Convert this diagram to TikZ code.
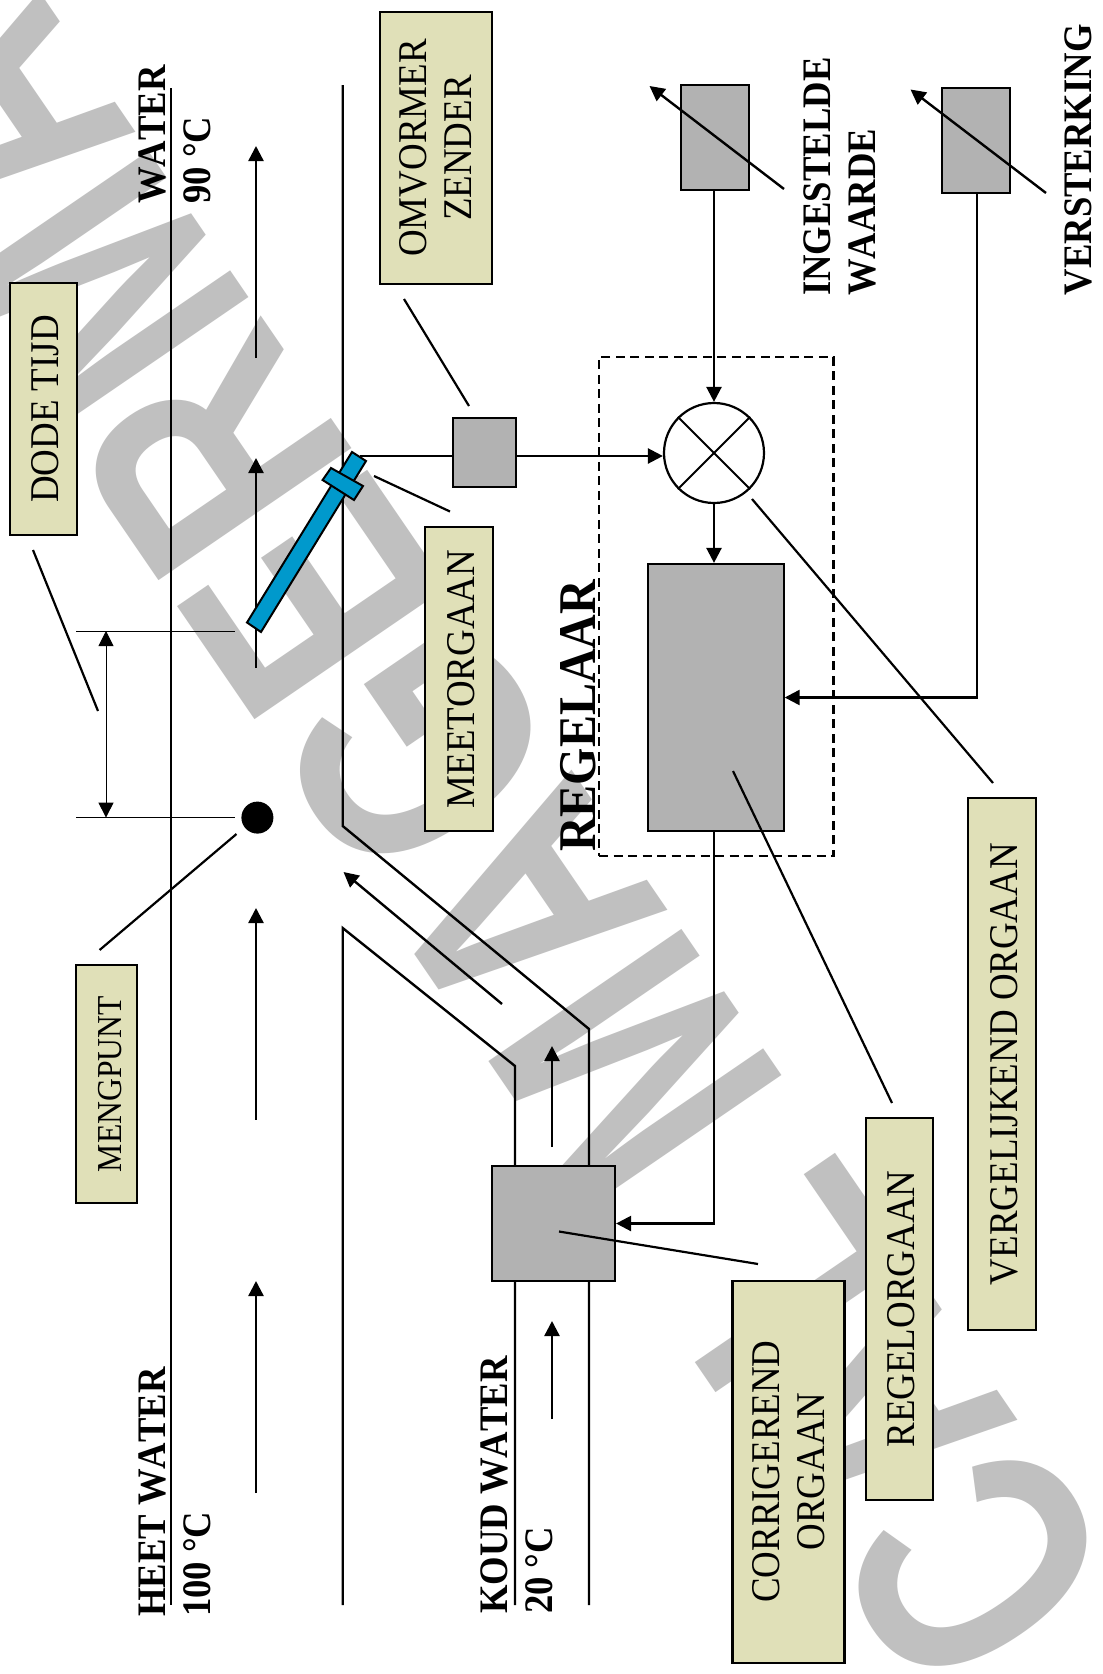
\documentclass[tikz,border=0pt]{standalone}
\usepackage{fontspec}
\setmainfont[FakeStretch=0.905,Kerning=Off]{Liberation Serif}
\newfontfamily\markfont[FakeStretch=0.745]{Liberation Sans}
\usetikzlibrary{arrows.meta}
\definecolor{tagfill}{RGB}{224,224,184}
\definecolor{unitfill}{RGB}{178,178,178}
\definecolor{markgray}{RGB}{192,192,192}
\definecolor{probeblue}{RGB}{0,153,204}
\tikzstyle{tag} = [rectangle, draw, line width=2.2pt, fill=tagfill, rotate=90, align=center, inner sep=0pt, font=\fontsize{40.8}{45}\selectfont, execute at begin node={\rule{0pt}{31pt}}]
\tikzstyle{unit} = [rectangle, draw, line width=2.2pt, fill=unitfill, inner sep=0pt]
\tikzstyle{heading} = [rotate=90, anchor=west, align=left, inner sep=0pt, font=\fontsize{40.5}{45}\selectfont\bfseries]
\tikzstyle{pipe} = [line width=2.4pt, line join=miter]
\tikzstyle{leader} = [line width=2.2pt]
\tikzstyle{flow} = [line width=2.4pt, -{Triangle[length=15pt,width=15pt]}]
\tikzstyle{thin} = [line width=1pt]
\begin{document}
\begin{tikzpicture}[x=1pt, y=-1pt]
\clip(0,0) rectangle (1103,1674);
\fill[white](0,0) rectangle (1103,1674);
\node(mark)[rotate=124.4, text=markgray, inner sep=0pt, font=\fontsize{340}{340}\selectfont\markfont\bfseries] at (432,772) {CAL MAGERMAN};
% pipes
\coordinate(hotA) at (171,88);
\coordinate(hotB) at (171,1605);
\coordinate(midA) at (342.7,85);
\coordinate(midB) at (342.7,826);
\coordinate(midC) at (589,1029);
\coordinate(midD) at (589,1605);
\coordinate(lowA) at (342.7,1605);
\coordinate(lowB) at (342.7,928);
\coordinate(lowC) at (515,1066);
\coordinate(lowD) at (515,1605);
\draw[pipe](hotA)--(hotB);
\draw[pipe](midA)--(midB)--(midC)--(midD);
\draw[pipe](lowA)--(lowB)--(lowC)--(lowD);
% flow arrows
\coordinate(h1a) at (256,358);
\coordinate(h1b) at (256,146);
\coordinate(h2a) at (256,668);
\coordinate(h2b) at (256,458);
\coordinate(h3a) at (256,1119.5);
\coordinate(h3b) at (256,908);
\coordinate(h4a) at (256,1493);
\coordinate(h4b) at (256,1281);
\coordinate(c1a) at (552,1147);
\coordinate(c1b) at (552,1046);
\coordinate(c2a) at (552,1419);
\coordinate(c2b) at (552,1321);
\coordinate(c3a) at (502,1004);
\coordinate(c3b) at (343.5,872);
\draw[flow](h1a)--(h1b);
\draw[flow](h2a)--(h2b);
\draw[flow](h3a)--(h3b);
\draw[flow](h4a)--(h4b);
\draw[flow](c1a)--(c1b);
\draw[flow](c2a)--(c2b);
\draw[flow](c3a)--(c3b);
% grey units
\node(setp)[unit, minimum width=68pt, minimum height=105pt] at (715,137.5) {};
\node(gain)[unit, minimum width=68pt, minimum height=105pt] at (976,140.5) {};
\node(trans)[unit, minimum width=63pt, minimum height=69pt] at (484.5,452.5) {};
\node(ctrl)[unit, minimum width=135.6pt, minimum height=267pt] at (715.8,697.5) {};
\node(valve)[unit, minimum width=123pt, minimum height=115pt] at (553.5,1223.5) {};
\node(mixer)[circle, draw, line width=2.2pt, fill=white, minimum size=100pt, inner sep=0pt] at (714,453) {};
\draw[line width=1.8pt](mixer.45)--(mixer.225);
\draw[line width=1.8pt](mixer.135)--(mixer.315);
\node(dot)[circle, fill=black, minimum size=32pt, inner sep=0pt] at (257.4,817.6) {};
% probe
\draw[line width=2pt, fill=probeblue](247,622.5)--(261,632)--(366,461)--(352,452)--cycle;
\draw[line width=2pt, fill=probeblue](322.6,480)--(331,468)--(363,486)--(354,500)--cycle;
% signals
\coordinate(tap) at (360,456);
\draw[pipe](tap)--(tap -| trans.west);
\draw[flow](tap -| trans.east)--(tap -| mixer.west);
\draw[flow](mixer.north |- setp.south)--(mixer.north);
\draw[flow](mixer.south)--(mixer.south |- ctrl.north);
\coordinate(gainout) at (977,193);
\draw[flow](gainout)|-(ctrl.east);
\draw[flow](mixer.south |- ctrl.south)|-(valve.east);
% adjust arrows
\coordinate(s1) at (784,189);
\coordinate(s2) at (649.5,86);
\coordinate(g1) at (1046,193);
\coordinate(g2) at (910.5,89.5);
\draw[flow](s1)--(s2);
\draw[flow](g1)--(g2);
% dead time
\coordinate(d1a) at (76,631);
\coordinate(d1b) at (235,631);
\coordinate(d2a) at (76,817.6);
\coordinate(d2b) at (235,817.6);
\coordinate(d3a) at (106,631);
\coordinate(d3b) at (106,817.6);
\draw[thin](d1a)--(d1b);
\draw[thin](d2a)--(d2b);
\draw[line width=1pt, {Triangle[length=15pt,width=15pt]}-{Triangle[length=15pt,width=15pt]}](d3a)--(d3b);
% regelaar frame
\node(frame)[draw, dashed, dash pattern=on 9pt off 5.5pt, line width=2.4pt, minimum width=234.6pt, minimum height=499pt, inner sep=0pt] at (716.3,606.5) {};
% labels
\node(omv)[tag, minimum width=272pt, minimum height=112.5pt] at (436,148) {OMVORMER\\ZENDER};
\node(dode)[tag, minimum width=251.6pt, minimum height=67.7pt] at (43.5,409) {DODE TIJD};
\node(meet)[tag, minimum width=304pt, minimum height=68pt] at (459,679) {MEETORGAAN};
\node(meng)[tag, minimum width=238.5pt, minimum height=61pt, font=\fontsize{35}{38}\selectfont, execute at begin node={\rule{0pt}{27pt}}] at (106.5,1084) {MENGPUNT};
\node(verg)[tag, minimum width=531.5pt, minimum height=68pt] at (1002,1064) {VERGELIJKEND ORGAAN};
\node(regel)[tag, minimum width=382pt, minimum height=67.5pt] at (899.5,1309) {REGELORGAAN};
\node(corr)[tag, minimum width=382pt, minimum height=112pt] at (788.5,1471.6) {CORRIGEREND\\ORGAAN};
\node(hot)[heading] at (175,1617) {HEET WATER\\100 °C};
\node(out)[heading] at (175,204) {WATER\\90 °C};
\node(cold)[heading] at (516.5,1614) {KOUD WATER\\20 °C};
\node(setl)[heading] at (839.5,296) {INGESTELDE\\WAARDE};
\node(gainl)[heading] at (1078,295.5) {VERSTERKING};
\node(regl)[heading, font=\fontsize{53}{53}\selectfont\bfseries] at (578,852) {REGELAAR};
% leaders
\coordinate(l1a) at (404,299);
\coordinate(l1b) at (469,406);
\coordinate(l2a) at (33,550);
\coordinate(l2b) at (98,711);
\coordinate(l3a) at (374,476);
\coordinate(l3b) at (450,511.5);
\coordinate(l4a) at (99.6,950);
\coordinate(l4b) at (236.5,834);
\coordinate(l5a) at (752,499);
\coordinate(l5b) at (993,783);
\coordinate(l6a) at (733,771);
\coordinate(l6b) at (892,1103);
\coordinate(l7a) at (559,1231.5);
\coordinate(l7b) at (758,1264);
\draw[leader](l1a)--(l1b);
\draw[leader](l2a)--(l2b);
\draw[leader](l3a)--(l3b);
\draw[leader](l4a)--(l4b);
\draw[leader](l5a)--(l5b);
\draw[leader](l6a)--(l6b);
\draw[leader](l7a)--(l7b);
\end{tikzpicture}
\end{document}
